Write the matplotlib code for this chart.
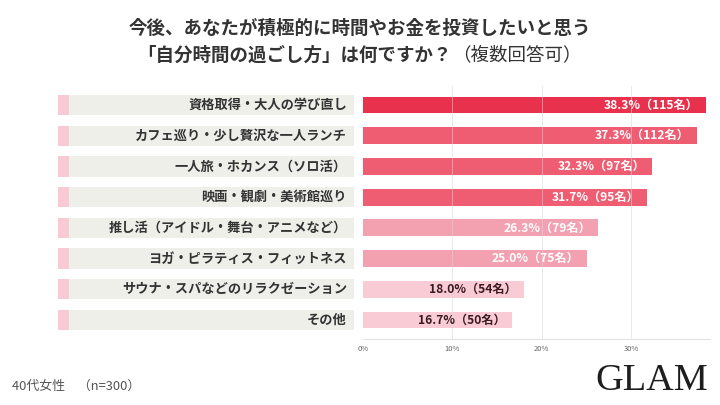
import matplotlib.pyplot as plt
from matplotlib.patches import Rectangle
from matplotlib.transforms import blended_transform_factory

plt.rcParams['font.family'] = ['Noto Sans CJK JP', 'DejaVu Sans']

# データ
categories = [
    "資格取得・大人の学び直し",
    "カフェ巡り・少し贅沢な一人ランチ",
    "一人旅・ホカンス（ソロ活）",
    "映画・観劇・美術館巡り",
    "推し活（アイドル・舞台・アニメなど）",
    "ヨガ・ピラティス・フィットネス",
    "サウナ・スパなどのリラクゼーション",
    "その他",
]
percents = [38.3, 37.3, 32.3, 31.7, 26.3, 25.0, 18.0, 16.7]
counts = [115, 112, 97, 95, 79, 75, 54, 50]
ticks = [0, 10, 20, 30]
tick_labels = ["0%", "10%", "20%", "30%"]

bar_colors = ['#e8324d', '#ee5d72', '#ee5d72', '#ee5d72',
              '#f3a0b0', '#f3a0b0', '#f8cbd5', '#f8cbd5']
text_colors = ['white'] * 6 + ['#3b1a22'] * 2

fig = plt.figure(figsize=(7.2, 4.05), dpi=100)
ax = fig.add_axes([363 / 720, 1 - 339 / 405, (710 - 363) / 720, (339 - 86) / 405])

y = list(range(len(categories)))
ax.barh(y, percents, height=0.55, color=bar_colors, zorder=2)
ax.set_xlim(0, 38.8)
ax.set_ylim(7.62, -0.62)

ax.set_xticks(ticks)
ax.set_xticklabels(tick_labels, fontsize=5.5, color='#666666')
ax.set_yticks([])
ax.tick_params(axis='x', length=0, pad=4)
for s in ['top', 'right', 'left']:
    ax.spines[s].set_visible(False)
ax.spines['bottom'].set_color('#e2e2e2')
ax.spines['bottom'].set_linewidth(0.8)
for t in ticks[1:]:
    ax.axvline(t, color='#d8d8d8', alpha=0.55, linewidth=0.7, zorder=3)

# 値ラベル
for i, (p, n) in enumerate(zip(percents, counts)):
    ax.annotate(f"{p:.1f}%（{n}名）", xy=(p, i), xytext=(-5, 0),
                textcoords='offset points', ha='right', va='center',
                fontsize=8.7, fontweight='bold', color=text_colors[i], zorder=4)

# 左側のラベル枠
tr = blended_transform_factory(fig.transFigure, ax.transData)
for i, cat in enumerate(categories):
    ax.add_patch(Rectangle((58 / 720, i - 0.33), (354 - 58) / 720, 0.66,
                           transform=tr, facecolor='#efefea', edgecolor='none',
                           clip_on=False, zorder=1))
    ax.add_patch(Rectangle((58 / 720, i - 0.33), 11 / 720, 0.66,
                           transform=tr, facecolor='#f9cad5', edgecolor='none',
                           clip_on=False, zorder=1))
    ax.text(347 / 720, i, cat, transform=tr, ha='right', va='center',
            fontsize=9.5, fontweight='bold', color='#333333')

# タイトル
fig.text(0.5, 1 - 28 / 405, "今後、あなたが積極的に時間やお金を投資したいと思う",
         ha='center', va='center', fontsize=13.3, fontweight='bold', color='#333333')
fig.text(452 / 720, 1 - 55 / 405, "「自分時間の過ごし方」は何ですか？",
         ha='right', va='center', fontsize=13.3, fontweight='bold', color='#333333')
fig.text(452 / 720, 1 - 55 / 405, "（複数回答可）",
         ha='left', va='center', fontsize=13.3, color='#333333')

fig.text(12 / 720, 1 - 386 / 405, "40代女性　（n=300）", ha='left', va='center',
         fontsize=9.3, color='#555555')
fig.text(708 / 720, 1 - 381 / 405, "GLAM", ha='right', va='center',
         fontsize=27.5, family='Liberation Serif', color='#1e1e1e')

fig.savefig('out.png', dpi=100, facecolor='white')
